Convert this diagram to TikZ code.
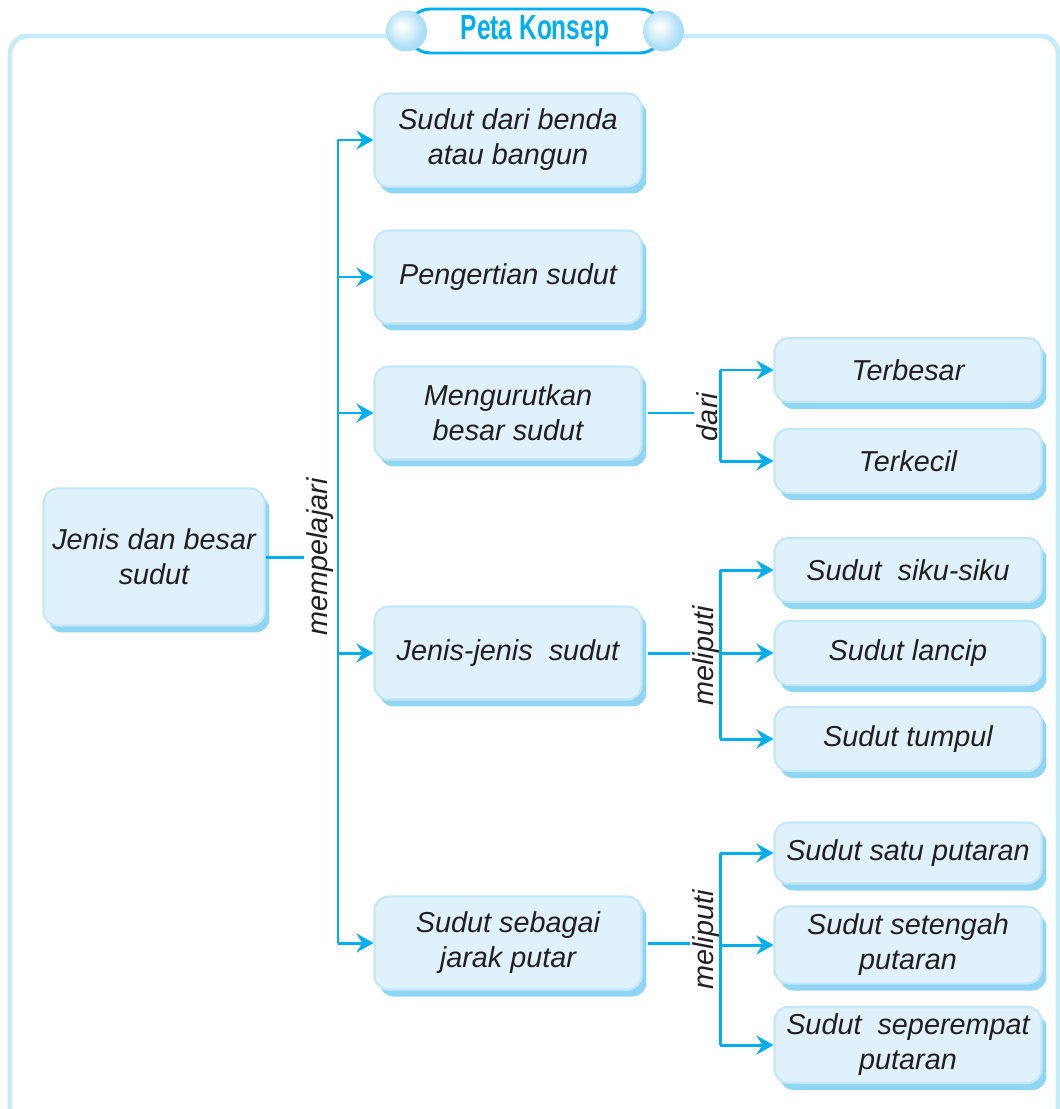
\documentclass[tikz,border=0pt]{standalone}
\usepackage{fontspec}
\setmainfont{Liberation Sans}
\usepackage{tikz}
\usetikzlibrary{arrows.meta,positioning,calc,shadows}
\definecolor{biru}{HTML}{00AEEF}
\definecolor{isikotak}{HTML}{DFF1FB}
\definecolor{tepikotak}{HTML}{C3E7F8}
\definecolor{bayang}{HTML}{8FD6F4}
\definecolor{bingkai}{HTML}{C8EBFA}
\definecolor{bola}{HTML}{9FD9F4}
\definecolor{teks}{HTML}{231F20}
\pgfdeclareradialshading{bolaterang}{\pgfpoint{-6bp}{6bp}}{%
  color(0bp)=(white); color(6bp)=(white!85!bola); color(22bp)=(bola!80);
  color(30bp)=(bola); color(50bp)=(bola)}
\tikzset{
  kotak/.style={rectangle, rounded corners=8pt, draw=tepikotak, line width=1.2pt, fill=isikotak,
                align=center, text=teks, inner sep=2pt,
                font=\fontsize{16.4}{19.9}\selectfont\itshape,
                minimum width=5.34cm, minimum height=#1,
                drop shadow={shadow xshift=0.1cm, shadow yshift=-0.14cm, fill=bayang, opacity=1}},
  kotak/.default=1.86cm,
  garis/.style={line width=1.7pt, draw=biru},
  panah/.style={-{Stealth[length=3.4mm,width=3.8mm,inset=1.2mm]}, line width=1.7pt, draw=biru},
  label/.style={rotate=90, inner sep=1pt, text=teks, font=\fontsize{16.4}{19.9}\selectfont\itshape},
}

\begin{document}
\begin{tikzpicture}[x=0.02cm, y=-0.02cm]
  \useasboundingbox (0,0) rectangle (1059,1109);
  % bingkai dan judul
  \draw[bingkai, line width=2.8pt, rounded corners=10pt] (10,36) rectangle (1058,1130);
  \node[rectangle, rounded corners=0.44cm, draw=biru, line width=1.7pt, fill=white,
        minimum width=5.08cm, minimum height=0.88cm] (judul) at (535,31)
    {\scalebox{0.7}[1]{\fontsize{19.9}{22}\selectfont\bfseries\color{biru}Peta Konsep}};
  \shade[shading=bolaterang] (judul.west) circle (0.41cm);
  \shade[shading=bolaterang] (judul.east) circle (0.41cm);

  % kotak-kotak
  \node[kotak=2.74cm, minimum width=4.42cm] (utama) at (154,557) {Jenis dan besar\\sudut};
  \node[kotak] (b1) at (508,140) {Sudut dari benda\\atau bangun};
  \node[kotak] (b2) at (508,277) {Pengertian sudut};
  \node[kotak] (b3) at (508,413) {Mengurutkan\\besar sudut};
  \node[kotak] (b4) at (508,653) {Jenis-jenis\ \ sudut};
  \node[kotak] (b5) at (508,943) {Sudut sebagai\\jarak putar};

  \node[kotak=1.28cm] (c1) at (908,370) {Terbesar};
  \node[kotak=1.28cm] (c2) at (908,461) {Terkecil};
  \node[kotak=1.28cm] (d1) at (908,570) {Sudut\ \ siku-siku};
  \node[kotak=1.28cm] (d2) at (908,653) {Sudut lancip};
  \node[kotak=1.28cm] (d3) at (908,739) {Sudut tumpul};
  \node[kotak=1.22cm] (e1) at (908,853) {Sudut satu putaran};
  \node[kotak=1.54cm] (e2) at (908,945) {Sudut setengah\\putaran};
  \node[kotak=1.52cm] (e3) at (908,1045) {Sudut\ \ seperempat\\putaran};

  % label
  \node[label] (lb1) at (320,557) {mempelajari};
  \node[label] (lb2) at (707,417) {dari};
  \node[label] (lb3) at (706,656) {meliputi};
  \node[label] (lb4) at (706,940) {meliputi};

  % cabang utama
  \coordinate (ta) at (338,557);
  \draw[garis] (utama.east) -- (utama.east -| lb1.north);
  \draw[garis] (ta |- b1.west) -- (ta |- b5.west);
  \foreach \n in {b1,b2,b3,b4,b5}
    \draw[panah] (ta |- \n.west) -- (\n.west);

  % cabang kanan
  \coordinate (tb) at (720,0);
  \draw[garis] (b3.east) ++(0.1cm,0) -- (lb2.north |- b3.east);
  \draw[garis] (tb |- c1.west) -- (tb |- c2.west);
  \foreach \n in {c1,c2}
    \draw[panah] (tb |- \n.west) -- (\n.west);

  \draw[garis] (b4.east) ++(0.1cm,0) -- (lb3.north |- b4.east);
  \draw[garis] (tb |- d1.west) -- (tb |- d3.west);
  \foreach \n in {d1,d2,d3}
    \draw[panah] (tb |- \n.west) -- (\n.west);

  \draw[garis] (b5.east) ++(0.1cm,0) -- (lb4.north |- b5.east);
  \draw[garis] (tb |- e1.west) -- (tb |- e3.west);
  \foreach \n in {e1,e2,e3}
    \draw[panah] (tb |- \n.west) -- (\n.west);
\end{tikzpicture}
\end{document}
